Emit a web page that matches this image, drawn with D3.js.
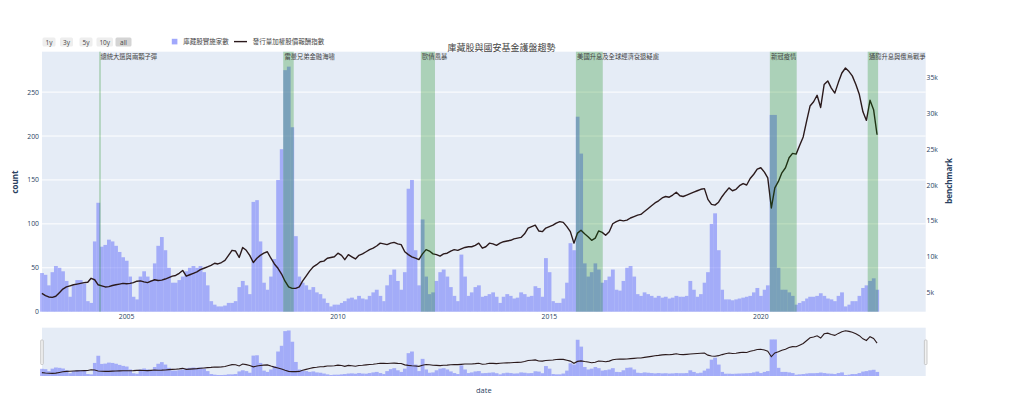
<!DOCTYPE html>
<html><head><meta charset="utf-8">
<script src="https://cdn.jsdelivr.net/npm/d3@7"></script>
<style>
body{margin:0;background:#fff}
svg{display:block;font-family:'Open Sans','Noto Sans CJK TC',sans-serif}
</style>
</head><body><svg id="c" width="1024" height="418"></svg>
<script>
// ---------- data ----------
const firstYear = 2003; // monthly observations from Jan 2003
const counts = [
 44,42,30,45,52,50,46,35,17,30,36,36,
 32,12,10,80,124,74,76,82,80,75,68,62,
 58,40,17,14,40,46,40,36,55,75,85,70,
 50,33,33,36,40,46,50,52,50,52,45,30,
 12,8,6,6,7,10,10,12,28,35,30,20,
 125,127,80,33,25,40,60,150,185,275,279,210,
 86,40,33,30,25,28,22,20,15,10,6,8,
 8,10,12,15,16,14,18,15,14,18,22,25,
 18,12,30,42,48,35,25,45,140,150,70,30,
 105,40,20,22,35,45,48,40,28,18,12,65,
 40,18,22,28,30,17,18,20,22,17,10,17,
 20,18,15,16,22,20,17,18,29,27,17,61,
 45,12,10,10,15,33,78,70,222,180,55,40,
 45,55,48,33,36,40,48,25,24,35,50,52,
 40,20,18,22,20,18,16,18,16,17,15,16,
 18,17,17,18,35,25,17,20,33,45,100,112,
 70,25,14,14,13,14,15,16,17,18,22,27,
 18,25,30,224,224,50,25,25,22,18,8,10,
 12,15,17,17,18,21,18,15,14,12,18,22,
 6,8,12,12,18,27,30,35,38,25
];
const benchmark = [
 4.9,4.6,4.4,4.35,4.5,5.0,5.5,5.8,5.95,6.1,6.2,6.3,
 6.4,6.45,7.0,6.8,6.1,5.95,5.8,5.85,6.0,6.1,6.2,6.3,
 6.25,6.3,6.4,6.6,6.65,6.5,6.4,6.6,6.8,6.7,6.75,6.9,
 7.1,7.3,7.4,7.7,8.1,7.3,7.5,7.7,7.9,8.2,8.4,8.6,
 8.8,9.1,9.0,9.2,9.5,10.2,10.9,10.8,9.9,11.3,10.9,10.2,
 9.2,9.8,10.2,10.5,10.7,9.8,9.0,8.4,7.6,6.6,5.8,5.6,
 5.6,5.8,6.6,7.3,8.0,8.6,8.9,9.3,9.4,9.8,9.9,10.0,
 10.5,10.2,9.6,10.3,10.0,9.7,10.2,10.4,10.7,11.0,11.2,11.5,
 11.9,11.8,11.7,11.9,12.0,11.8,11.7,10.7,10.3,10.0,9.8,9.6,
 10.4,11.0,10.8,10.4,10.3,10.1,10.4,10.5,10.8,11.0,10.9,11.1,
 11.3,11.4,11.4,11.6,11.9,11.2,11.4,11.9,11.8,11.6,11.9,12.1,
 12.2,12.3,12.5,12.6,12.7,13.2,14.0,14.2,14.4,13.6,13.5,14.0,
 14.2,14.4,14.7,14.9,14.8,14.2,13.5,11.9,13.3,13.7,13.2,12.8,
 12.3,12.6,13.6,13.4,13.0,13.5,14.6,14.9,15.1,15.0,15.1,15.4,
 15.6,15.8,15.9,16.3,16.7,17.1,17.5,17.8,18.2,18.4,18.3,18.6,
 19.0,18.5,18.4,18.6,18.8,19.0,19.2,19.4,19.5,18.0,17.3,17.2,
 17.6,18.4,19.0,19.6,19.2,19.4,19.9,20.2,20.0,20.9,21.5,22.2,
 22.4,21.8,21.0,16.8,19.6,20.5,21.7,22.4,23.8,24.4,24.3,25.5,
 26.7,29.0,31.0,31.6,32.5,30.8,34.0,34.5,33.5,32.8,34.3,35.6,
 36.3,35.8,35.2,34.0,32.6,30.2,29.0,31.8,30.5,27.0
];
const leftTicks = [0,50,100,150,200,250];
const rightTicks = [5,10,15,20,25,30,35];
const xTickYears = [2005,2010,2015,2020];
const eventNames = ["總統大選與兩顆子彈","雷曼兄弟金融海嘯","歐債風暴","美國升息及全球經濟衰退疑慮","新冠疫情","通膨升息與俄烏戰爭"];
const eventStarts = ["2004-05-10","2008-09-15","2011-12-18","2015-08-18","2020-03-19","2022-07-12"];
const eventEnds   = ["2004-05-24","2008-12-15","2012-04-18","2016-04-06","2020-11-06","2022-10-10"];
const buttonLabels = ["1y","3y","5y","10y","all"];
const legendLabels = ["庫藏股實施家數","發行量加權股價報酬指數"];
const titleText = "庫藏股與國安基金護盤趨勢";

// ---------- layout ----------
const P = {l:42, r:925.7, t:51.7, b:311.7};
const S = {t:327.7, b:376};
const barColor = "#636efa", barOpacity = 0.5;
const lineColor = "#2b1a1c";
const fontColor = "#2a3f5f";

const svg = d3.select("#c");
const parse = d3.utcParse("%Y-%m-%d");
const months = counts.map((_, i) => new Date(Date.UTC(firstYear, i, 1)));

const x = d3.scaleUtc().domain([new Date(Date.UTC(2003,0,2)), new Date(Date.UTC(2023,10,25))]).range([P.l, P.r]);
const yL = d3.scaleLinear().domain([0, 296]).range([P.b, P.t]);
const yR = d3.scaleLinear().domain([2.35, 38.57]).range([P.b, P.t]);
const ySL = d3.scaleLinear().domain([0, 296]).range([S.b, S.t]);
const ySR = d3.scaleLinear().domain([2.35, 38.57]).range([S.b, S.t]);

// backgrounds
svg.append("rect").attr("x",P.l).attr("y",P.t).attr("width",P.r-P.l).attr("height",P.b-P.t).attr("fill","#e5ecf6");
svg.append("rect").attr("x",P.l).attr("y",S.t).attr("width",P.r-P.l).attr("height",S.b-S.t).attr("fill","#e5ecf6");

// grid
svg.append("g").selectAll("line").data(leftTicks.filter(d=>d>0)).join("line")
  .attr("x1",P.l).attr("x2",P.r).attr("y1",d=>yL(d)).attr("y2",d=>yL(d))
  .attr("stroke","#fff").attr("stroke-width",1);

function barGeom(i, xs){
  const xc = xs(months[i]);
  const xn = xs(new Date(Date.UTC(firstYear, i+1, 1)));
  const h = (xn - xc)/2;
  return [xc - h, 2*h + 0.25];
}

// main bars
svg.append("g").attr("opacity",barOpacity).selectAll("rect").data(counts).join("rect")
  .attr("x",(d,i)=>barGeom(i,x)[0]).attr("width",(d,i)=>barGeom(i,x)[1])
  .attr("y",d=>yL(d)).attr("height",d=>yL(0)-yL(d)).attr("fill",barColor);

// main line
const line = d3.line().x((d,i)=>x(months[i])).y(d=>yR(d));
svg.append("path").datum(benchmark).attr("d",line).attr("fill","none")
  .attr("stroke",lineColor).attr("stroke-width",1.4).attr("stroke-linejoin","round");

// event shading
const ev = eventNames.map((n,i)=>({n, s:parse(eventStarts[i]), e:parse(eventEnds[i])}));
svg.append("g").selectAll("rect").data(ev).join("rect")
  .attr("x",d=>x(d.s)).attr("width",d=>Math.max(1.2, x(d.e)-x(d.s)))
  .attr("y",P.t).attr("height",P.b-P.t).attr("fill","green").attr("opacity",0.25);
svg.append("g").selectAll("text").data(ev).join("text")
  .attr("x",d=>x(d.s)+1.2).attr("y",56.5).attr("dominant-baseline","central")
  .attr("font-size",6.3).attr("fill","#444").text(d=>d.n);

// axes labels
svg.append("g").selectAll("text").data(leftTicks).join("text")
  .attr("x",39).attr("y",d=>yL(d)).attr("dominant-baseline","central").attr("text-anchor","end")
  .attr("font-size",6.8).attr("fill",fontColor).text(d=>d);
svg.append("g").selectAll("text").data(rightTicks).join("text")
  .attr("x",926.5).attr("y",d=>yR(d)).attr("dominant-baseline","central").attr("text-anchor","start")
  .attr("font-size",6.8).attr("fill",fontColor).text(d=>d+"k");
svg.append("g").selectAll("text").data(xTickYears).join("text")
  .attr("x",d=>x(new Date(Date.UTC(d,0,1)))).attr("y",316.5).attr("dominant-baseline","central").attr("text-anchor","middle")
  .attr("font-size",6.8).attr("fill",fontColor).text(d=>d);

svg.append("text").attr("transform","translate(14.5,182) rotate(-90)").attr("text-anchor","middle")
  .attr("dominant-baseline","central").attr("font-size",8).attr("font-weight","bold").attr("fill",fontColor).text("count");
svg.append("text").attr("transform","translate(948,181) rotate(-90)").attr("text-anchor","middle")
  .attr("dominant-baseline","central").attr("font-size",8).attr("font-weight","bold").attr("fill",fontColor).text("benchmark");
svg.append("text").attr("x",(P.l+P.r)/2).attr("y",390).attr("text-anchor","middle")
  .attr("dominant-baseline","central").attr("font-size",7.5).attr("fill",fontColor).text("date");

// title
svg.append("text").attr("x",501.5).attr("y",47.5).attr("text-anchor","middle").attr("dominant-baseline","central")
  .attr("font-size",9).attr("fill","#444").text(titleText);

// range slider content
svg.append("g").attr("opacity",barOpacity).selectAll("rect").data(counts).join("rect")
  .attr("x",(d,i)=>barGeom(i,x)[0]).attr("width",(d,i)=>barGeom(i,x)[1])
  .attr("y",d=>ySL(d)).attr("height",d=>ySL(0)-ySL(d)).attr("fill",barColor);
const lineS = d3.line().x((d,i)=>x(months[i])).y(d=>ySR(d));
svg.append("path").datum(benchmark).attr("d",lineS).attr("fill","none")
  .attr("stroke",lineColor).attr("stroke-width",1.1);
// grabbers
[P.l-1.3, P.r-1.3].forEach(gx=>{
  svg.append("rect").attr("x",gx).attr("y",340).attr("width",2.6).attr("height",24.5)
    .attr("rx",0.8).attr("fill","#f2f2f2").attr("stroke","#bebebe").attr("stroke-width",0.8);
});

// range selector buttons
const btnX = [42.5, 60, 79.5, 96.5, 115.5];
const btnW = [13, 13, 13, 16.5, 16];
const bg = svg.append("g");
buttonLabels.forEach((b,i)=>{
  bg.append("rect").attr("x",btnX[i]).attr("y",37.5).attr("width",btnW[i]).attr("height",9)
    .attr("rx",1.5).attr("fill", b==="all" ? "#d4d4d4" : "#eee");
  bg.append("text").attr("x",btnX[i]+btnW[i]/2).attr("y",42).attr("text-anchor","middle")
    .attr("dominant-baseline","central").attr("font-size",6.5).attr("fill","#444").text(b);
});

// legend
const lg = svg.append("g");
lg.append("rect").attr("x",171.8).attr("y",38.8).attr("width",5.6).attr("height",5.6)
  .attr("fill",barColor).attr("opacity",barOpacity+0.1);
lg.append("text").attr("x",183.3).attr("y",41.6).attr("dominant-baseline","central")
  .attr("font-size",6.5).attr("fill","#444").text(legendLabels[0]);
lg.append("line").attr("x1",234).attr("x2",247).attr("y1",41.6).attr("y2",41.6)
  .attr("stroke",lineColor).attr("stroke-width",1.4);
lg.append("text").attr("x",252.7).attr("y",41.6).attr("dominant-baseline","central")
  .attr("font-size",6.5).attr("fill","#444").text(legendLabels[1]);
</script></body></html>
